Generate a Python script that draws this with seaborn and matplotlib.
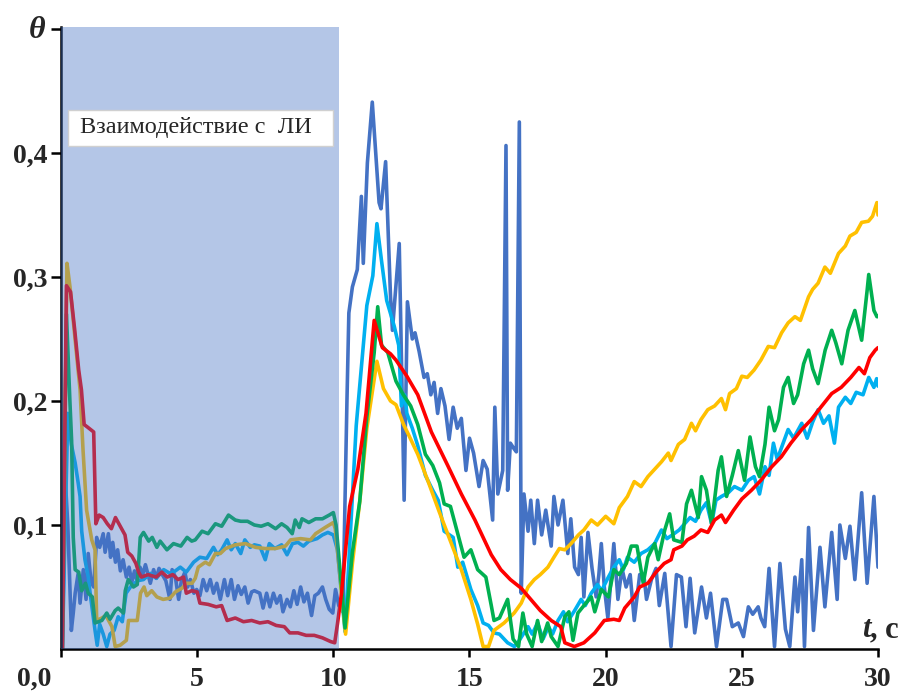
import matplotlib.pyplot as plt
import seaborn as sns
import pandas as pd
from matplotlib.patches import Rectangle

# (t, theta) points, one list per curve
red_pts = [(0.05, 0.0), (0.2, 0.293), (0.35, 0.288), (0.5, 0.258), (0.65, 0.225), (0.75, 0.209), (0.85, 0.181),
           (0.97, 0.179), (1.2, 0.175), (1.28, 0.101), (1.4, 0.108), (1.55, 0.106), (1.7, 0.101), (1.85, 0.097),
           (2.0, 0.106), (2.2, 0.098), (2.35, 0.092), (2.45, 0.078), (2.6, 0.075), (2.75, 0.069), (2.85, 0.062),
           (2.95, 0.058), (3.2, 0.06), (3.5, 0.058), (3.7, 0.062), (3.9, 0.058), (4.1, 0.06), (4.3, 0.056),
           (4.5, 0.058), (4.6, 0.045), (4.8, 0.047), (5.0, 0.046), (5.1, 0.037), (5.4, 0.036), (5.7, 0.034),
           (5.9, 0.035), (6.1, 0.023), (6.4, 0.025), (6.7, 0.022), (7.0, 0.023), (7.3, 0.021), (7.6, 0.022),
           (7.9, 0.019), (8.2, 0.018), (8.4, 0.013), (8.7, 0.013), (9.0, 0.011), (9.3, 0.011), (9.6, 0.009),
           (9.9, 0.006), (10.05, 0.005), (10.15, 0.02), (10.3, 0.045), (10.6, 0.115), (10.9, 0.145), (11.2, 0.19),
           (11.5, 0.265), (11.8, 0.243), (12.1, 0.238), (12.3, 0.233), (12.7, 0.22), (13.1, 0.205), (13.6, 0.175),
           (14.2, 0.148), (14.7, 0.125), (15.2, 0.104), (15.5, 0.09), (15.8, 0.076), (16.15, 0.064), (16.5, 0.056),
           (16.9, 0.049), (17.25, 0.04), (17.6, 0.031), (18.0, 0.023), (18.35, 0.018), (18.5, 0.005), (18.85, 0.002),
           (19.2, 0.005), (19.6, 0.013), (19.95, 0.023), (20.3, 0.024), (20.5, 0.023), (20.7, 0.033), (21.05, 0.042),
           (21.25, 0.05), (21.55, 0.053), (21.85, 0.062), (22.15, 0.069), (22.4, 0.072), (22.5, 0.08), (22.8, 0.083),
           (23.0, 0.088), (23.25, 0.091), (23.5, 0.096), (23.75, 0.094), (24.0, 0.104), (24.25, 0.108), (24.4, 0.102),
           (24.7, 0.112), (25.0, 0.121), (25.35, 0.128), (25.7, 0.136), (26.1, 0.147), (26.45, 0.155), (26.8, 0.166),
           (27.2, 0.177), (27.55, 0.185), (27.9, 0.195), (28.3, 0.206), (28.65, 0.211), (29.0, 0.219), (29.3, 0.227),
           (29.5, 0.222), (29.7, 0.235), (29.9, 0.241), (30.0, 0.243)]

yellow_pts = [(0.05, 0.0), (0.22, 0.311), (0.33, 0.292), (0.52, 0.249), (0.7, 0.209), (0.81, 0.16), (0.94, 0.112),
              (1.13, 0.088), (1.25, 0.08), (1.31, 0.023), (1.5, 0.025), (1.65, 0.027), (1.87, 0.018), (1.99, 0.002),
              (2.17, 0.003), (2.4, 0.007), (2.48, 0.023), (2.8, 0.023), (2.92, 0.045), (3.05, 0.05), (3.15, 0.043),
              (3.33, 0.047), (3.52, 0.042), (3.75, 0.04), (4.0, 0.041), (4.2, 0.046), (4.44, 0.049), (4.62, 0.053),
              (4.81, 0.053), (4.93, 0.057), (5.04, 0.066), (5.3, 0.07), (5.45, 0.068), (5.67, 0.077), (5.85, 0.077),
              (6.04, 0.081), (6.4, 0.084), (6.77, 0.085), (7.14, 0.082), (7.5, 0.081), (7.87, 0.081), (8.24, 0.083),
              (8.43, 0.088), (8.8, 0.089), (9.16, 0.088), (9.35, 0.093), (9.7, 0.098), (10.0, 0.102), (10.07, 0.097),
              (10.15, 0.08), (10.45, 0.012), (10.7, 0.069), (10.97, 0.119), (11.23, 0.178), (11.6, 0.232),
              (11.84, 0.21), (12.1, 0.2), (12.3, 0.197), (12.58, 0.181), (12.78, 0.172), (13.1, 0.157), (13.5, 0.134),
              (13.9, 0.11), (14.3, 0.087), (14.7, 0.064), (15.05, 0.04), (15.3, 0.02), (15.5, 0.002), (15.7, 0.002),
              (15.9, 0.015), (16.27, 0.021), (16.64, 0.029), (16.9, 0.037), (17.15, 0.05), (17.38, 0.056),
              (17.6, 0.06), (17.88, 0.066), (18.1, 0.074), (18.3, 0.081), (18.5, 0.08), (18.73, 0.085), (19.0, 0.092),
              (19.2, 0.096), (19.47, 0.104), (19.7, 0.1), (20.0, 0.107), (20.3, 0.101), (20.5, 0.114), (20.8, 0.123),
              (21.05, 0.135), (21.3, 0.131), (21.55, 0.139), (21.8, 0.145), (22.05, 0.151), (22.3, 0.158),
              (22.4, 0.152), (22.67, 0.165), (22.9, 0.169), (23.15, 0.182), (23.3, 0.176), (23.5, 0.185),
              (23.75, 0.193), (24.0, 0.196), (24.25, 0.202), (24.4, 0.193), (24.55, 0.206), (24.8, 0.21), (25.0, 0.22),
              (25.2, 0.219), (25.45, 0.225), (25.7, 0.233), (25.97, 0.244), (26.2, 0.243), (26.46, 0.255),
              (26.7, 0.263), (26.95, 0.268), (27.15, 0.265), (27.45, 0.284), (27.6, 0.29), (27.8, 0.295),
              (28.05, 0.308), (28.25, 0.303), (28.55, 0.319), (28.8, 0.325), (28.97, 0.333), (29.2, 0.336),
              (29.4, 0.344), (29.65, 0.345), (29.8, 0.349), (29.96, 0.36), (30.0, 0.35)]

green_pts = [(0.05, 0.0), (0.2, 0.27), (0.33, 0.198), (0.39, 0.168), (0.45, 0.09), (0.52, 0.064), (0.65, 0.062),
             (0.76, 0.047), (0.9, 0.053), (1.0, 0.045), (1.15, 0.042), (1.25, 0.021), (1.5, 0.023), (1.68, 0.029),
             (1.8, 0.024), (1.99, 0.031), (2.1, 0.033), (2.29, 0.029), (2.36, 0.047), (2.47, 0.056), (2.66, 0.05),
             (2.8, 0.052), (2.91, 0.09), (3.03, 0.094), (3.22, 0.087), (3.35, 0.09), (3.52, 0.082), (3.64, 0.087),
             (3.89, 0.08), (4.13, 0.085), (4.4, 0.083), (4.63, 0.09), (4.8, 0.087), (4.93, 0.088), (5.18, 0.095),
             (5.4, 0.093), (5.67, 0.101), (5.9, 0.099), (6.15, 0.108), (6.4, 0.104), (6.6, 0.103), (6.85, 0.103),
             (7.1, 0.1), (7.35, 0.099), (7.6, 0.101), (7.88, 0.097), (8.1, 0.101), (8.3, 0.098), (8.49, 0.093),
             (8.6, 0.104), (8.75, 0.098), (8.85, 0.105), (9.1, 0.102), (9.35, 0.105), (9.6, 0.105), (9.85, 0.108),
             (10.0, 0.11), (10.1, 0.1), (10.43, 0.017), (10.7, 0.078), (10.97, 0.119), (11.23, 0.187), (11.5, 0.239),
             (11.63, 0.276), (11.77, 0.245), (12.0, 0.239), (12.3, 0.216), (12.57, 0.205), (12.84, 0.196),
             (13.1, 0.181), (13.38, 0.157), (13.65, 0.148), (13.9, 0.134), (14.07, 0.117), (14.3, 0.115),
             (14.57, 0.093), (14.8, 0.074), (15.05, 0.08), (15.3, 0.064), (15.6, 0.058), (15.8, 0.035), (15.9, 0.023),
             (16.1, 0.025), (16.4, 0.04), (16.6, 0.008), (16.8, 0.002), (16.96, 0.029), (17.1, 0.012), (17.3, 0.002),
             (17.5, 0.023), (17.65, 0.006), (17.87, 0.021), (18.0, 0.01), (18.25, 0.002), (18.5, 0.026),
             (18.65, 0.03), (18.8, 0.007), (18.98, 0.029), (19.2, 0.035), (19.47, 0.042), (19.6, 0.03),
             (19.84, 0.048), (20.1, 0.042), (20.3, 0.064), (20.5, 0.06), (20.76, 0.069), (20.94, 0.083),
             (21.15, 0.083), (21.38, 0.053), (21.55, 0.074), (21.8, 0.085), (21.93, 0.072), (22.17, 0.096),
             (22.35, 0.109), (22.5, 0.088), (22.8, 0.086), (22.97, 0.117), (23.15, 0.128), (23.4, 0.106),
             (23.52, 0.139), (23.7, 0.128), (23.89, 0.101), (24.13, 0.144), (24.25, 0.155), (24.44, 0.123),
             (24.65, 0.14), (24.87, 0.16), (25.1, 0.136), (25.3, 0.171), (25.5, 0.147), (25.65, 0.139),
             (25.85, 0.165), (26.0, 0.195), (26.2, 0.176), (26.35, 0.185), (26.53, 0.211), (26.7, 0.219),
             (26.9, 0.198), (27.05, 0.205), (27.27, 0.23), (27.45, 0.241), (27.6, 0.226), (27.8, 0.214),
             (28.06, 0.241), (28.3, 0.257), (28.45, 0.247), (28.67, 0.23), (28.9, 0.257), (29.15, 0.273),
             (29.4, 0.249), (29.6, 0.289), (29.66, 0.302), (29.85, 0.273), (29.96, 0.268), (30.0, 0.268)]

cyan_pts = [(0.05, 0.0), (0.25, 0.19), (0.38, 0.165), (0.52, 0.15), (0.63, 0.134), (0.7, 0.123), (0.76, 0.095),
            (0.88, 0.072), (1.0, 0.058), (1.07, 0.045), (1.25, 0.015), (1.33, 0.003), (1.42, 0.02), (1.55, 0.012),
            (1.68, 0.002), (1.8, 0.012), (1.95, 0.015), (2.1, 0.026), (2.25, 0.022), (2.39, 0.045), (2.55, 0.05),
            (2.8, 0.055), (3.03, 0.056), (3.28, 0.061), (3.5, 0.057), (3.77, 0.064), (4.0, 0.061), (4.2, 0.063),
            (4.38, 0.066), (4.6, 0.062), (4.87, 0.07), (5.1, 0.074), (5.35, 0.073), (5.6, 0.082), (5.75, 0.076),
            (5.9, 0.08), (6.1, 0.088), (6.25, 0.08), (6.4, 0.085), (6.6, 0.077), (6.75, 0.088), (6.95, 0.082),
            (7.1, 0.084), (7.3, 0.083), (7.5, 0.072), (7.65, 0.085), (7.85, 0.081), (8.1, 0.084), (8.3, 0.076),
            (8.5, 0.085), (8.7, 0.086), (8.9, 0.083), (9.1, 0.087), (9.4, 0.089), (9.6, 0.092), (9.8, 0.094),
            (10.0, 0.092), (10.15, 0.08), (10.43, 0.014), (10.64, 0.099), (10.84, 0.18), (11.1, 0.245),
            (11.23, 0.277), (11.45, 0.301), (11.6, 0.343), (11.77, 0.313), (11.96, 0.281), (12.24, 0.26),
            (12.4, 0.245), (12.5, 0.196), (12.62, 0.205), (12.7, 0.19), (12.9, 0.178), (13.1, 0.164), (13.38, 0.14),
            (13.65, 0.128), (13.85, 0.12), (14.07, 0.095), (14.2, 0.093), (14.4, 0.09), (14.57, 0.066),
            (14.75, 0.07), (15.05, 0.048), (15.3, 0.035), (15.5, 0.021), (15.7, 0.019), (15.9, 0.013), (16.1, 0.012),
            (16.4, 0.005), (16.65, 0.002), (16.8, 0.006), (17.0, 0.013), (17.15, 0.018), (17.3, 0.012),
            (17.5, 0.021), (17.7, 0.008), (17.9, 0.018), (18.05, 0.012), (18.25, 0.023), (18.45, 0.03),
            (18.6, 0.022), (18.86, 0.031), (19.1, 0.04), (19.25, 0.035), (19.47, 0.045), (19.7, 0.052),
            (19.85, 0.047), (20.1, 0.058), (20.3, 0.066), (20.5, 0.072), (20.65, 0.064), (20.8, 0.074),
            (21.05, 0.07), (21.3, 0.077), (21.55, 0.08), (21.8, 0.085), (22.05, 0.096), (22.25, 0.089),
            (22.45, 0.092), (22.7, 0.096), (22.9, 0.101), (23.1, 0.106), (23.3, 0.103), (23.5, 0.112),
            (23.7, 0.118), (23.89, 0.101), (24.05, 0.12), (24.25, 0.123), (24.5, 0.126), (24.73, 0.131),
            (25.0, 0.128), (25.24, 0.136), (25.45, 0.139), (25.65, 0.125), (25.85, 0.147), (26.0, 0.14),
            (26.16, 0.166), (26.3, 0.153), (26.5, 0.165), (26.7, 0.177), (26.9, 0.17), (27.2, 0.182), (27.4, 0.17),
            (27.6, 0.183), (27.8, 0.193), (28.0, 0.182), (28.2, 0.188), (28.4, 0.166), (28.55, 0.195),
            (28.8, 0.203), (29.0, 0.198), (29.2, 0.207), (29.45, 0.205), (29.66, 0.219), (29.85, 0.211),
            (29.95, 0.218), (30.0, 0.212)]

blue_pts = [(0.05, 0.0), (0.15, 0.14), (0.25, 0.1), (0.38, 0.015), (0.45, 0.029), (0.52, 0.045), (0.63, 0.061),
            (0.7, 0.037), (0.82, 0.064), (0.92, 0.04), (1.0, 0.077), (1.1, 0.055), (1.2, 0.05), (1.31, 0.09),
            (1.42, 0.082), (1.55, 0.093), (1.62, 0.078), (1.74, 0.093), (1.82, 0.074), (1.9, 0.086), (2.0, 0.07),
            (2.08, 0.08), (2.18, 0.063), (2.28, 0.072), (2.4, 0.058), (2.5, 0.066), (2.6, 0.054), (2.7, 0.063),
            (2.79, 0.055), (2.9, 0.066), (3.0, 0.06), (3.1, 0.068), (3.28, 0.053), (3.4, 0.064), (3.5, 0.057),
            (3.6, 0.065), (3.72, 0.06), (3.85, 0.055), (4.0, 0.04), (4.08, 0.064), (4.2, 0.058), (4.32, 0.04),
            (4.42, 0.055), (4.55, 0.062), (4.65, 0.05), (4.75, 0.056), (4.88, 0.045), (4.98, 0.048), (5.1, 0.043),
            (5.22, 0.056), (5.35, 0.047), (5.48, 0.056), (5.6, 0.045), (5.72, 0.053), (5.85, 0.04), (6.0, 0.056),
            (6.12, 0.043), (6.25, 0.056), (6.37, 0.04), (6.5, 0.051), (6.62, 0.044), (6.75, 0.05), (6.87, 0.037),
            (7.0, 0.046), (7.1, 0.047), (7.3, 0.045), (7.42, 0.033), (7.55, 0.045), (7.67, 0.034), (7.8, 0.045),
            (7.92, 0.037), (8.05, 0.043), (8.15, 0.03), (8.3, 0.04), (8.42, 0.034), (8.55, 0.047), (8.67, 0.036),
            (8.8, 0.05), (8.92, 0.038), (9.05, 0.045), (9.2, 0.027), (9.32, 0.043), (9.45, 0.045), (9.6, 0.05),
            (9.72, 0.04), (9.85, 0.032), (9.98, 0.029), (10.08, 0.048), (10.2, 0.035), (10.35, 0.03), (10.5, 0.2),
            (10.57, 0.271), (10.7, 0.292), (10.88, 0.306), (11.03, 0.365), (11.1, 0.311), (11.25, 0.392),
            (11.43, 0.441), (11.68, 0.36), (11.75, 0.355), (11.92, 0.393), (12.1, 0.284), (12.17, 0.257),
            (12.42, 0.327), (12.6, 0.12), (12.72, 0.28), (12.9, 0.25), (13.0, 0.255), (13.15, 0.24), (13.33, 0.219),
            (13.45, 0.222), (13.58, 0.205), (13.7, 0.215), (13.83, 0.19), (13.95, 0.21), (14.1, 0.196),
            (14.25, 0.169), (14.4, 0.195), (14.55, 0.178), (14.7, 0.186), (14.87, 0.144), (15.0, 0.17),
            (15.15, 0.158), (15.35, 0.131), (15.5, 0.152), (15.65, 0.145), (15.85, 0.104), (15.93, 0.195),
            (16.04, 0.125), (16.22, 0.144), (16.34, 0.406), (16.4, 0.128), (16.5, 0.166), (16.62, 0.162),
            (16.72, 0.159), (16.83, 0.425), (16.9, 0.045), (17.0, 0.125), (17.15, 0.095), (17.25, 0.12),
            (17.38, 0.085), (17.5, 0.12), (17.65, 0.092), (17.8, 0.112), (18.0, 0.083), (18.1, 0.123), (18.25, 0.1),
            (18.43, 0.12), (18.61, 0.077), (18.72, 0.105), (18.86, 0.066), (19.0, 0.06), (19.1, 0.09), (19.2, 0.042),
            (19.35, 0.094), (19.5, 0.065), (19.65, 0.042), (19.75, 0.06), (19.84, 0.085), (19.95, 0.05),
            (20.08, 0.025), (20.3, 0.085), (20.45, 0.04), (20.6, 0.065), (20.75, 0.05), (20.9, 0.06), (21.05, 0.023),
            (21.25, 0.06), (21.4, 0.06), (21.5, 0.04), (21.68, 0.056), (21.85, 0.065), (21.97, 0.035),
            (22.17, 0.061), (22.4, 0.002), (22.6, 0.06), (22.78, 0.058), (22.95, 0.018), (23.1, 0.057),
            (23.27, 0.013), (23.52, 0.05), (23.7, 0.025), (23.85, 0.045), (24.07, 0.002), (24.3, 0.04),
            (24.44, 0.04), (24.65, 0.018), (24.87, 0.021), (25.06, 0.01), (25.24, 0.034), (25.4, 0.028),
            (25.6, 0.034), (25.7, 0.025), (25.84, 0.018), (26.0, 0.065), (26.2, 0.002), (26.4, 0.069),
            (26.6, 0.016), (26.76, 0.002), (26.95, 0.058), (27.05, 0.03), (27.2, 0.072), (27.3, 0.002),
            (27.45, 0.098), (27.63, 0.015), (27.87, 0.082), (28.05, 0.034), (28.3, 0.094), (28.5, 0.04),
            (28.6, 0.1), (28.8, 0.073), (28.97, 0.099), (29.15, 0.056), (29.4, 0.126), (29.6, 0.053),
            (29.85, 0.123), (30.0, 0.066)]

series_names = ['blue', 'cyan', 'yellow', 'green', 'red']
series_points = [blue_pts, cyan_pts, yellow_pts, green_pts, red_pts]
series_colors = ['#4472C4', '#00B0F0', '#FFC000', '#00B050', '#FF0000']

x_ticks = [0, 5, 10, 15, 20, 25, 30]
x_labels = ['', '5', '10', '15', '20', '25', '30']
y_ticks = [0.1, 0.2, 0.3, 0.4, 0.5]
y_labels = ['0,1', '0,2', '0,3', '0,4', '']

frames = [pd.DataFrame(pts, columns=['t', 'theta']).assign(series=name)
          for name, pts in zip(series_names, series_points)]
df = pd.concat(frames, ignore_index=True)

sns.set_style('ticks')
plt.rcParams['font.family'] = ['Liberation Serif', 'DejaVu Serif']

fig = plt.figure(figsize=(9.04, 6.92), dpi=100)
ax = fig.add_axes([61 / 904, 43 / 692, 817 / 904, 622 / 692])

sns.lineplot(data=df, x='t', y='theta', hue='series', hue_order=series_names,
             palette=series_colors, sort=False, estimator=None,
             linewidth=2.6, legend=False, ax=ax)

# область взаимодействия (полупрозрачная заливка поверх линий)
ax.axvspan(0, 10.2, color='#4472C4', alpha=0.4, lw=0, zorder=3)
ax.add_patch(Rectangle((0.26, 0.406), 9.71, 0.029, facecolor='white',
                       edgecolor='#d0d0d0', lw=1, zorder=5))
ax.text(0.68, 0.4205, 'Взаимодействие с  ЛИ', fontsize=17.5, va='center', ha='left', zorder=6)

ax.set_xlim(0, 30)
ax.set_ylim(0, 0.5016)
ax.set_xticks(x_ticks)
ax.set_xticklabels(x_labels, fontsize=20, fontweight='bold')
ax.set_yticks(y_ticks)
ax.set_yticklabels(y_labels, fontsize=20, fontweight='bold')
ax.tick_params(axis='x', direction='out', length=6, width=1.8, color='black', pad=7)
ax.tick_params(axis='y', direction='out', length=7, width=1.8, color='black', pad=3)
ax.set_xlabel('')
ax.set_ylabel('')
sns.despine(ax=ax)
for side in ['left', 'bottom']:
    ax.spines[side].set_linewidth(1.8)
    ax.spines[side].set_color('black')

fig.text(51 / 904, 1 - 679 / 692, '0,0', ha='right', va='center', fontsize=20, fontweight='bold')
fig.text(45 / 904, 1 - 30 / 692, 'θ', ha='right', va='center', fontsize=23,
         fontweight='bold', fontstyle='italic')
comma = fig.text(899 / 904, 1 - 637 / 692, ', c', ha='right', va='baseline', fontsize=22, fontweight='bold')
ax.annotate('t', xy=(0, 0), xycoords=comma, ha='right', va='bottom', fontsize=22,
            fontweight='bold', fontstyle='italic', annotation_clip=False)

fig.savefig('out.png', dpi=100)
